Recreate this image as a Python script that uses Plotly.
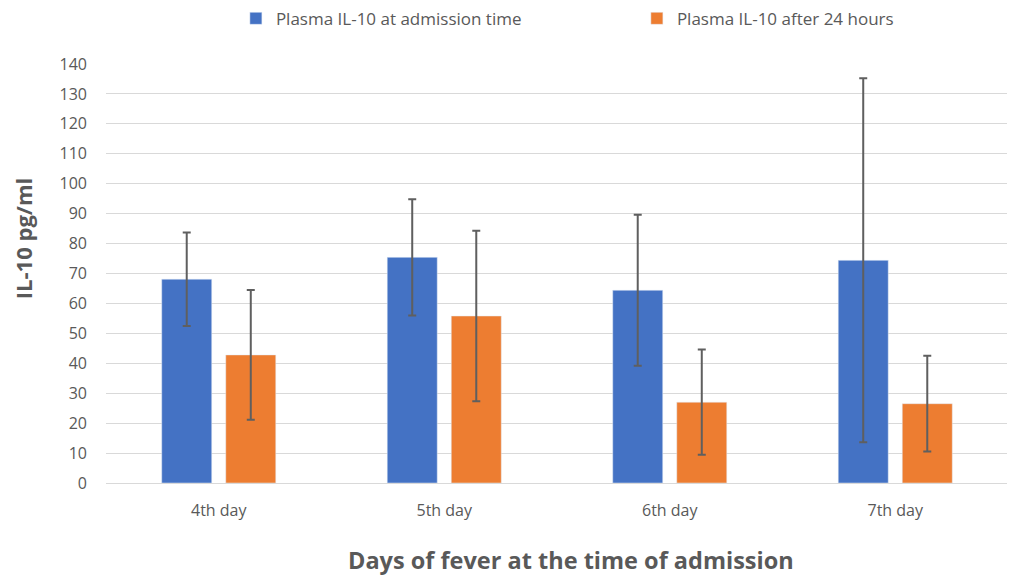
import plotly.graph_objects as go

categories = ["4th day", "5th day", "6th day", "7th day"]
admission_mean = [68.1, 75.4, 64.4, 74.4]
admission_err = [15.6, 19.4, 25.2, 60.8]
after24_mean = [42.8, 55.8, 27.0, 26.5]
after24_err = [21.7, 28.5, 17.6, 16.0]
y_ticks = list(range(0, 141, 10))

BLUE = "#4472C4"
ORANGE = "#ED7D31"
GREY = "#595959"
FONT = "Open Sans"

fig = go.Figure()
fig.add_trace(go.Bar(
    name="Plasma IL-10 at admission time", x=categories, y=admission_mean,
    marker=dict(color=BLUE), legendwidth=356,
    error_y=dict(type="data", array=admission_err, visible=True,
                 color="#5f5f5f", thickness=2, width=4),
))
fig.add_trace(go.Bar(
    name="Plasma IL-10 after 24 hours", x=categories, y=after24_mean,
    marker=dict(color=ORANGE), legendwidth=225,
    error_y=dict(type="data", array=after24_err, visible=True,
                 color="#5f5f5f", thickness=2, width=4),
))

fig.update_layout(
    width=1007, height=567,
    margin=dict(l=98, r=7, t=56, b=92),
    paper_bgcolor="white", plot_bgcolor="white",
    barmode="group", bargap=0.432, bargroupgap=0.219,
    font=dict(family=FONT, color=GREY, size=16),
    showlegend=True,
    legend=dict(orientation="h", x=0.144, xanchor="left", y=0.981, yanchor="middle",
                yref="container", font=dict(size=17, color=GREY),
                itemwidth=30, traceorder="normal"),
    xaxis=dict(showgrid=False, showline=True, linecolor="#d9d9d9", linewidth=1,
               ticks="", tickfont=dict(size=16, color=GREY), ticklabelstandoff=13),
    yaxis=dict(range=[0, 140], tickvals=y_ticks, showgrid=True, gridcolor="#d9d9d9",
               gridwidth=1, zeroline=False, showline=False, ticks="",
               tickfont=dict(size=16, color=GREY), ticklabelstandoff=18),
    annotations=[
        dict(text="<b>Days of fever at the time of admission</b>", xref="paper", yref="paper",
             x=0.5155, y=-0.184, xanchor="center", yanchor="middle", showarrow=False,
             font=dict(size=23.5, color=GREY, family=FONT)),
        dict(text="<b>IL-10 pg/ml</b>", xref="paper", yref="paper", textangle=-90,
             x=-0.0926, y=0.583, xanchor="center", yanchor="middle", showarrow=False,
             font=dict(size=22, color=GREY, family=FONT)),
    ],
)

fig.write_html("out.html")
